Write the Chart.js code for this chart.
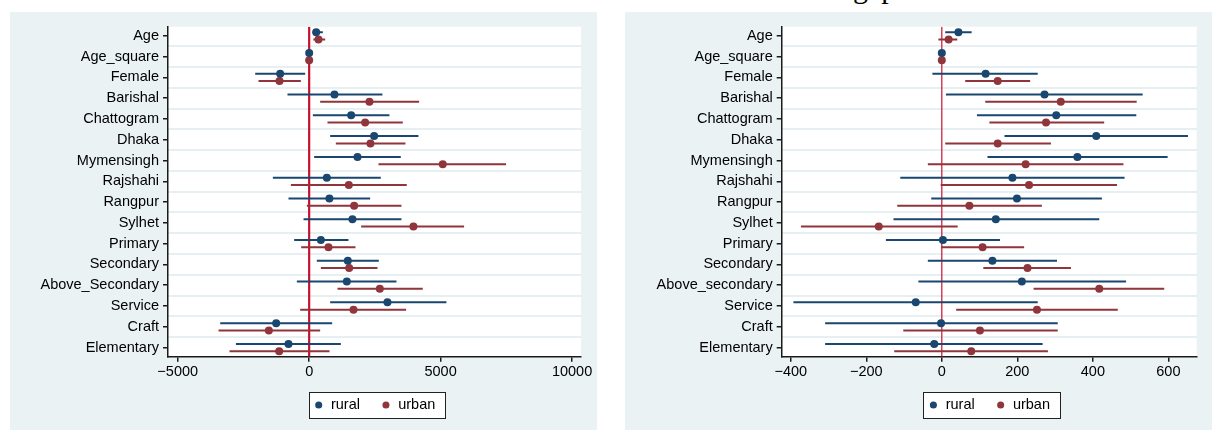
<!DOCTYPE html>
<html>
<head>
<meta charset="utf-8">
<script src="https://cdn.jsdelivr.net/npm/chart.js@4.4.0/dist/chart.umd.min.js"></script>
<style>
  html, body { margin: 0; padding: 0; background: #fff; width: 1215px; height: 430px; overflow: hidden; position: relative; }
  .panel { position: absolute; top: 12px; width: 587px; height: 418px; background: #eaf2f3; }
  #p1 { left: 10px; }
  #p2 { left: 625px; }
  .cap { position: absolute; left: 853px; top: -27px; font-family: 'Liberation Serif', 'Times New Roman', serif; font-size: 30px; line-height: 30px; white-space: nowrap; color: #000; }
</style>
</head>
<body>
<div class="cap">gap</div>
<div class="panel" id="p1"><canvas id="c1" width="587" height="418"></canvas></div>
<div class="panel" id="p2"><canvas id="c2" width="587" height="418"></canvas></div>
<script>
// categories (top to bottom)
const catsL = ['Age', 'Age_square', 'Female', 'Barishal', 'Chattogram', 'Dhaka', 'Mymensingh', 'Rajshahi',
  'Rangpur', 'Sylhet', 'Primary', 'Secondary', 'Above_Secondary', 'Service', 'Craft', 'Elementary'];
const catsR = ['Age', 'Age_square', 'Female', 'Barishal', 'Chattogram', 'Dhaka', 'Mymensingh', 'Rajshahi',
  'Rangpur', 'Sylhet', 'Primary', 'Secondary', 'Above_secondary', 'Service', 'Craft', 'Elementary'];

// left panel : coefficients and 95% CI
const ruralL   = [266, 0, -1103, 962, 1597, 2471, 1838, 672, 770, 1646, 445, 1470, 1432, 2978, -1255, -787];
const ruralLoL = [140, -20, -2053, -825, 140, 798, 190, -1381, -787, -215, -570, 291, -469, 798, -3384, -2787];
const ruralHiL = [520, 20, -152, 2787, 3053, 4156, 3485, 2725, 2319, 3510, 1495, 2649, 3320, 5221, 875, 1205];
const urbanL   = [354, 0, -1129, 2293, 2129, 2331, 5082, 1508, 1711, 3966, 735, 1521, 2687, 1686, -1534, -1141];
const urbanLoL = [160, -20, -1927, 418, 696, 1014, 2636, -696, -89, 1977, -304, 444, 1078, -342, -3448, -3030];
const urbanHiL = [610, 20, -316, 4182, 3562, 3662, 7490, 3713, 3510, 5893, 1761, 2598, 4321, 3688, 418, 773];
const xTicksL  = [-5000, 0, 5000, 10000];

// right panel
const ruralR   = [44, 0, 116, 272, 303, 409, 359, 187, 199, 143, 3, 134, 212, -69, -2, -20];
const ruralLoR = [9, -2, -25, 11, 93, 166, 121, -110, -28, -128, -148, -37, -62, -393, -309, -309];
const ruralHiR = [79, 2, 254, 532, 515, 652, 598, 484, 424, 417, 154, 305, 488, 254, 307, 267];
const urbanR   = [18, 0, 148, 315, 276, 148, 222, 231, 73, -167, 108, 227, 417, 252, 101, 78];
const urbanLoR = [-9, -2, 62, 115, 126, 9, -37, -3, -118, -373, -2, 110, 243, 38, -102, -126];
const urbanHiR = [41, 2, 234, 516, 430, 289, 481, 464, 265, 42, 218, 342, 589, 466, 307, 281];
const xTicksR  = [-400, -200, 0, 200, 400, 600];

const NAVY = '#1a476f';
const MAROON = '#90353b';
const RED = '#c8102e';
const AXIS = '#1a1a1a';
const GRID = '#e6eff1';
const OFF = 0.175;
const Y_MIN = 0.56, Y_MAX = 16.44;

Chart.defaults.font.family = "'Liberation Sans', Arial, Helvetica, sans-serif";
Chart.defaults.font.size = 14.5;
Chart.defaults.color = '#000';

function dots(vals, off) {
  return vals.map((v, i) => ({x: v, y: i + 1 + off}));
}
function ci(lo, hi, off) {
  const pts = [];
  lo.forEach((l, i) => {
    pts.push({x: l, y: i + 1 + off}, {x: hi[i], y: i + 1 + off}, {x: null, y: null});
  });
  return pts;
}
const minus = v => v < 0 ? '\u2212' + Math.abs(v) : String(v);

// white plot region + boxed legend
const frame = {
  id: 'frame',
  beforeDraw(chart) {
    const {ctx, chartArea: a} = chart;
    ctx.save();
    ctx.fillStyle = '#fff';
    ctx.fillRect(a.left, a.top, a.right - a.left, a.bottom - a.top);
    const hb = chart.legend && chart.legend.legendHitBoxes;
    if (hb && hb.length) {
      const first = hb[0], last = hb[hb.length - 1];
      const cy = first.top + first.height / 2;
      const x0 = Math.round(first.left - 5), x1 = Math.round(last.left + last.width + 10);
      const y0 = Math.round(cy - 13);
      ctx.fillRect(x0, y0, x1 - x0, 26);
      ctx.strokeStyle = '#222';
      ctx.lineWidth = 1;
      ctx.strokeRect(x0 + 0.5, y0 + 0.5, x1 - x0, 26);
    }
    ctx.restore();
  }
};

function makeChart(id, cats, rural, rLo, rHi, urban, uLo, uHi, xMin, xMax, xTicks, zeroW, yWidth, padRight) {
  const gridAt = cats.slice(1).map((c, i) => i + 1.5);
  new Chart(document.getElementById(id), {
    type: 'scatter',
    data: {
      datasets: [
        {label: 'rural', data: dots(rural, -OFF), backgroundColor: NAVY, pointBackgroundColor: NAVY,
          pointRadius: 4, pointBorderWidth: 0, borderWidth: 0, order: 0},
        {label: 'urban', data: dots(urban, OFF), backgroundColor: MAROON, pointBackgroundColor: MAROON,
          pointRadius: 4, pointBorderWidth: 0, borderWidth: 0, order: 0},
        {label: 'rural ci', data: ci(rLo, rHi, -OFF), showLine: true, spanGaps: false,
          borderColor: NAVY, borderWidth: 2, pointRadius: 0, order: 1},
        {label: 'urban ci', data: ci(uLo, uHi, OFF), showLine: true, spanGaps: false,
          borderColor: MAROON, borderWidth: 2, pointRadius: 0, order: 1},
        {label: 'zero', data: [{x: 0, y: Y_MIN}, {x: 0, y: Y_MAX}], showLine: true,
          borderColor: RED, borderWidth: zeroW, pointRadius: 0, order: 2}
      ]
    },
    options: {
      responsive: false,
      animation: false,
      devicePixelRatio: 1,
      events: [],
      layout: {padding: {top: 14.7, right: padRight, bottom: 7.8, left: 0}},
      plugins: {
        legend: {
          position: 'bottom',
          fullSize: false,
          labels: {
            usePointStyle: true, boxWidth: 10, boxHeight: 5, padding: 21, color: '#000',
            filter: item => item.datasetIndex < 2
          }
        },
        tooltip: {enabled: false}
      },
      scales: {
        x: {
          type: 'linear', min: xMin, max: xMax,
          afterBuildTicks: s => { s.ticks = xTicks.map(v => ({value: v})); },
          afterFit: s => { s.height = 20; },
          ticks: {callback: v => minus(v), padding: 2, color: '#000', maxRotation: 0, autoSkip: false},
          grid: {drawOnChartArea: false, tickLength: 5, color: AXIS, lineWidth: 1.5},
          border: {display: true, color: AXIS, width: 1.5}
        },
        y: {
          type: 'linear', reverse: true, min: Y_MIN, max: Y_MAX,
          afterBuildTicks: s => { s.ticks = cats.map((c, i) => ({value: i + 1})); },
          afterFit: s => { s.width = yWidth; },
          ticks: {callback: (v, i) => cats[i], padding: 4, color: '#000', autoSkip: false},
          grid: {drawOnChartArea: false, drawTicks: true, tickLength: 5, color: AXIS, lineWidth: 1.5},
          border: {display: true, color: AXIS, width: 1.5}
        },
        y2: {
          type: 'linear', position: 'right', reverse: true, min: Y_MIN, max: Y_MAX,
          afterBuildTicks: s => { s.ticks = gridAt.map(v => ({value: v})); },
          afterFit: s => { s.width = 0; },
          ticks: {display: false},
          grid: {drawTicks: false, color: GRID, lineWidth: 2},
          border: {display: false}
        }
      }
    },
    plugins: [frame]
  });
}

makeChart('c1', catsL, ruralL, ruralLoL, ruralHiL, urbanL, urbanLoL, urbanHiL, -5370, 10340, xTicksL, 2.2, 158, 16);
makeChart('c2', catsR, ruralR, ruralLoR, ruralHiR, urbanR, urbanLoR, urbanHiR, -424, 675, xTicksR, 1.2, 156.7, 15.3);
</script>
</body>
</html>
